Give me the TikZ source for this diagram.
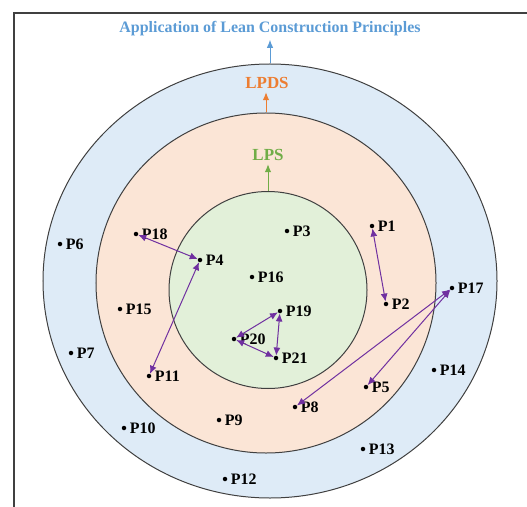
\documentclass[tikz,border=0pt]{standalone}
\usepackage{fontspec}
\setmainfont{Liberation Serif}
\usepackage{xcolor}
\usepackage{tikz}
\usetikzlibrary{shapes.geometric,arrows.meta}
\definecolor{bordo}{HTML}{404040}
\definecolor{celeste}{HTML}{DEEBF7}
\definecolor{pesca}{HTML}{FBE5D6}
\definecolor{verdino}{HTML}{E2F0D9}
\definecolor{blu}{HTML}{5B9BD5}
\definecolor{arancio}{HTML}{ED7D31}
\definecolor{verde}{HTML}{70AD47}
\definecolor{viola}{HTML}{7030A0}

\begin{document}
\begin{tikzpicture}[x=1bp, y=-1bp,
            anello/.style={ellipse, draw=bordo, line width=1bp, inner sep=0pt},
            punto/.style={circle, fill=black, inner sep=0pt, minimum size=4.5bp,
                    label distance=0pt},
            etich/.style={font=\fontsize{16}{18}\selectfont\bfseries, text=black},
            freccia/.style={draw=viola, line width=1bp,
                    {Latex[length=8bp,width=7bp]}-{Latex[length=8bp,width=7bp]}},
            sale/.style={line width=1bp, -{Latex[length=8bp,width=6.5bp]}}
        ]
        \useasboundingbox (0,0) rectangle (527,507);
        % cornice
        \draw[line width=2bp, bordo] (14,507) -- (14,13) -- (527,13);

        % tre cerchi concentrici
        \node[anello, fill=celeste, minimum width=454bp, minimum height=434bp] (outer) at (270,281) {};
        \node[anello, fill=pesca, minimum width=340bp, minimum height=340bp] (mid) at (266,283) {};
        \node[anello, fill=verdino, minimum width=198bp, minimum height=197bp] (inner) at (268,290) {};

        \node[font=\fontsize{16}{18}\selectfont\bfseries, text=blu] (alc) at (270,29) {Application of Lean Construction Principles};
        \node[font=\fontsize{17}{19}\selectfont\bfseries, text=arancio] (lpds) at (267,83) {LPDS};
        \node[font=\fontsize{17}{19}\selectfont\bfseries, text=verde] (lps) at (268,155) {LPS};

        \draw[sale, blu] (outer.north) -- (outer.north |- alc.south);
        \draw[sale, arancio] (mid.north) -- (mid.north |- lpds.south);
        \draw[sale, verde] (inner.north) -- (inner.north |- lps.south);

        % punti
        \node[punto, label={[etich]right:P1}] (p1) at (372,226) {};
        \node[punto, label={[etich]right:P2}] (p2) at (386,304) {};
        \node[punto, label={[etich]right:P3}] (p3) at (287,231) {};
        \node[punto, label={[etich]right:P4}] (p4) at (200,260) {};
        \node[punto, label={[etich]right:P5}] (p5) at (366,387) {};
        \node[punto, label={[etich]right:P6}] (p6) at (60,244) {};
        \node[punto, label={[etich]right:P7}] (p7) at (71,353) {};
        \node[punto, label={[etich]right:P8}] (p8) at (295,407) {};
        \node[punto, label={[etich]right:P9}] (p9) at (219,420) {};
        \node[punto, label={[etich]right:P10}] (p10) at (124,428) {};
        \node[punto, label={[etich]right:P11}] (p11) at (149,376) {};
        \node[punto, label={[etich]right:P12}] (p12) at (225,479) {};
        \node[punto, label={[etich]right:P13}] (p13) at (363,449) {};
        \node[punto, label={[etich]right:P14}] (p14) at (434,370) {};
        \node[punto, label={[etich]right:P15}] (p15) at (120,309) {};
        \node[punto, label={[etich]right:P16}] (p16) at (252,277) {};
        \node[punto, label={[etich]right:P17}] (p17) at (452,288) {};
        \node[punto, label={[etich]right:P18}] (p18) at (136,234) {};
        \node[punto, label={[etich]right:P19}] (p19) at (280,311) {};
        \node[punto, label={[etich]right:P20}] (p20) at (234,339) {};
        \node[punto, label={[etich]right:P21}] (p21) at (276,358) {};

        \draw[freccia] (p18) -- (p4);
        \draw[freccia] (p4) -- (p11);
        \draw[freccia] (p1) -- (p2);
        \draw[freccia] (p17) -- (p8);
        \draw[freccia] (p17) -- (p5);
        \draw[freccia] (p19) -- (p20);
        \draw[freccia] (p20) -- (p21);
        \draw[freccia] (p19) -- (p21);
    \end{tikzpicture}
\end{document}
